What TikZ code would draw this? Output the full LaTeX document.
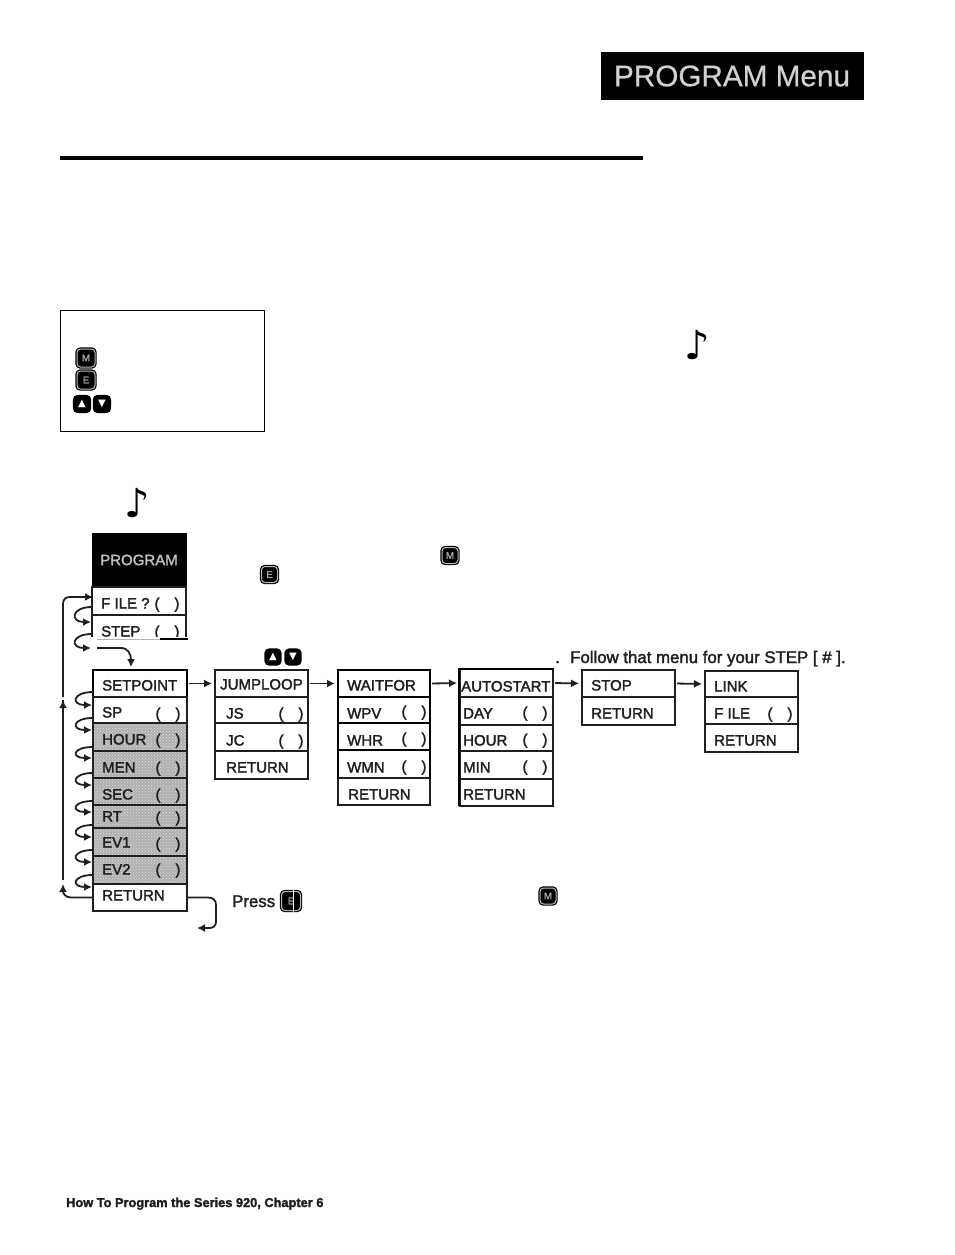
\documentclass[tikz,border=0pt]{standalone}
\usepackage{fontspec}
\setmainfont{Liberation Sans}
\newfontfamily\menufont[FakeBold=2]{Liberation Sans}
\newfontfamily\titlefont[FakeBold=0.6]{Liberation Sans}
\newfontfamily\symfont{DejaVu Sans}
\usetikzlibrary{arrows.meta,calc,patterns}
\definecolor{ink}{gray}{0.12}
\tikzset{
  cell/.style={draw=ink,line width=1.8pt,anchor=north west,inner sep=0pt,outer sep=0pt},
  cellhard/.style={cell,draw=black,line width=2.4pt},
  cellgray/.style={cell,preaction={fill=gray!62},pattern=crosshatch dots,pattern color=gray!25},
  lbl/.style={anchor=base west,inner sep=0pt,text=ink,font=\menufont\fontsize{15}{18}\selectfont},
  parens/.style={anchor=base,inner sep=0pt,text=ink,font=\menufont\fontsize{15}{18}\selectfont},
  body/.style={anchor=base west,inner sep=0pt,text=ink,font=\menufont\fontsize{16.8}{19}\selectfont},
  conn/.style={draw=ink,line width=1.8pt,-{Latex[length=8pt,width=8pt]}},
  loopline/.style={conn},
  keycap/.style={draw=black,line width=1.2pt,double=gray!55,double distance=1pt,fill=black,rounded corners=3.5pt,
    inner sep=0pt,outer sep=0pt,text=black!35,font=\menufont\fontsize{9.5}{9}\selectfont},
  keyarrow/.style={keycap,minimum size=15pt,draw=black,double=black,font=\symfont\fontsize{10}{10}\selectfont,text=white},
  note/.style={inner sep=0pt,text=black,font=\symfont\fontsize{40}{40}\selectfont},
}
\newcommand{\menucell}[6]{%
  \pgfmathsetmacro{\cellw}{#5-#3}\pgfmathsetmacro{\cellh}{#6-#4}%
  \node[#1,minimum width=\cellw pt,minimum height=\cellh pt] (#2) at (#3,#4) {};}
\newcommand{\celltext}[4]{\node[lbl] (#1) at (#2,#3+5.5) {#4};}
\newcommand{\cellparens}[3]{\node[parens] (#1) at (#2,#3+5.5) {\makebox[25pt]{(\hfill)}};}
\newcommand{\menuloop}[4]{%
  \draw[loopline] ([yshift=#2pt]#1.south west) .. controls +(-21,0) and +(-21,0) .. ([xshift=-1pt,yshift=-#4pt]#3.north west);}
\newcommand{\stepconn}[2]{\draw[conn,shorten <=2pt,shorten >=3pt] (#1.east) -- (#2.west);}
\begin{document}
\begin{tikzpicture}[x=1pt,y=-1pt]
\useasboundingbox (0,0) rectangle (954,1255);
\fill[white] (0,0) rectangle (954,1255);

% header
\node[fill=black,text=black!18,inner sep=0pt,minimum width=263pt,minimum height=48pt,
  font=\titlefont\fontsize{29.7}{32}\selectfont] (title) at (732,76) {PROGRAM Menu};
\node[fill=black,inner sep=0pt,minimum width=583pt,minimum height=4pt] (rule) at (351.5,158) {};

% key box
\node[draw=black,line width=.9pt,inner sep=0pt,minimum width=204pt,minimum height=121pt] (keybox) at (162,370.5) {};
\node[keycap,minimum size=18pt] (keyM) at (86,358) {M};
\node[keycap,minimum size=18pt] (keyE) at (86,380) {E};
\node[keyarrow] (keyU) at (82,404) {▲};
\node[keyarrow] (keyD) at (102,404) {▼};

% notes
\node[note] (note1) at (697,345) {♪};
\node[note] (note2) at (137,503) {♪};

% PROGRAM column
\node[fill=black,text=black!25,inner sep=0pt,minimum width=95pt,minimum height=54pt,
  font=\menufont\fontsize{15}{18}\selectfont] (program) at (139,560) {PROGRAM};
\menucell{cell}{file}{92}{587}{186}{615}
\menucell{cell}{stepc}{92}{615}{186}{639}
\celltext{filet}{101}{603}{F ILE ?}
\cellparens{filep}{167}{603}
\celltext{stept}{101}{631}{STEP}
\cellparens{stepp}{167}{631}
\fill[white] (90,637) rectangle (188,640);
\draw[draw=black,line width=1.8pt] (160,639) -- (188,639);
\draw[draw=gray!60,line width=1pt] (97,639) -- (160,639);

% SETPOINT column
\menucell{cellhard}{setpoint}{93}{670}{187}{697}
\menucell{cell}{sp}{93}{697}{187}{723}
\menucell{cellgray}{hour}{93}{723}{187}{751}
\menucell{cellgray}{men}{93}{751}{187}{778}
\menucell{cellgray}{sec}{93}{778}{187}{805}
\menucell{cellgray}{rt}{93}{805}{187}{828}
\menucell{cellgray}{evone}{93}{828}{187}{856}
\menucell{cellgray}{evtwo}{93}{856}{187}{884}
\menucell{cell}{retA}{93}{884}{187}{911}
\celltext{setpointt}{102}{685}{SETPOINT}
\celltext{spt}{102}{712}{SP}\cellparens{spp}{168}{713}
\celltext{hourt}{102}{739}{HOUR}\cellparens{hourp}{168}{739}
\celltext{ment}{102}{767}{MEN}\cellparens{menp}{168}{767}
\celltext{sect}{102}{794}{SEC}\cellparens{secp}{168}{794}
\celltext{rtt}{102}{816}{RT}\cellparens{rtp}{168}{817}
\celltext{evonet}{102}{842}{EV1}\cellparens{evonep}{168}{843}
\celltext{evtwot}{102}{869}{EV2}\cellparens{evtwop}{168}{869}
\celltext{retAt}{102}{895}{RETURN}

% JUMPLOOP column
\menucell{cell}{jump}{215}{670}{308}{697}
\menucell{cell}{js}{215}{697}{308}{723}
\menucell{cell}{jc}{215}{723}{308}{751}
\menucell{cell}{retB}{215}{751}{308}{779}
\celltext{jumpt}{220}{684}{JUMPLOOP}
\celltext{jst}{226}{713}{JS}\cellparens{jsp}{291}{713}
\celltext{jct}{226}{740}{JC}\cellparens{jcp}{291}{740}
\celltext{retBt}{226}{767}{RETURN}

% WAITFOR column
\menucell{cell}{retC}{338}{778}{430}{805}
\menucell{cellhard}{wpv}{338}{697}{430}{723}
\menucell{cellhard}{whr}{338}{723}{430}{750}
\menucell{cellhard}{wmn}{338}{750}{430}{778}
\menucell{cellhard}{wait}{338}{670}{430}{697}
\draw[ink,line width=1.8pt] (338,778) -- (430,778);
\celltext{waitt}{347}{685}{WAITFOR}
\celltext{wpvt}{347}{713}{WPV}\cellparens{wpvp}{414}{711}
\celltext{whrt}{347}{740}{WHR}\cellparens{whrp}{414}{738}
\celltext{wmnt}{347}{767}{WMN}\cellparens{wmnp}{414}{766}
\celltext{retCt}{348}{794}{RETURN}

% AUTOSTART column
\menucell{cell}{autostart}{460}{669}{553}{697}
\menucell{cell}{day}{460}{697}{553}{725}
\menucell{cell}{hourB}{460}{725}{553}{751}
\menucell{cell}{minute}{460}{751}{553}{779}
\menucell{cell}{retD}{460}{779}{553}{806}
\draw[black,line width=2.4pt] (553,669) -- (459,669) -- (459,806);
\celltext{autot}{461}{686}{AUTOSTART}
\celltext{dayt}{463}{713}{DAY}\cellparens{dayp}{535}{712}
\celltext{hourBt}{463}{740}{HOUR}\cellparens{hourBp}{535}{739}
\celltext{minutet}{463}{767}{MIN}\cellparens{minutep}{535}{766}
\celltext{retDt}{463}{794}{RETURN}

% STOP column
\menucell{cell}{stopc}{582}{670}{675}{697}
\menucell{cell}{retE}{582}{697}{675}{725}
\celltext{stopt}{591}{685}{STOP}
\celltext{retEt}{591}{713}{RETURN}

% LINK column
\menucell{cell}{link}{705}{671}{798}{697}
\menucell{cell}{fileB}{705}{697}{798}{724}
\menucell{cell}{retF}{705}{724}{798}{752}
\celltext{linkt}{714}{686}{LINK}
\celltext{fileBt}{714}{713}{F ILE}\cellparens{fileBp}{780}{713}
\celltext{retFt}{714}{740}{RETURN}

% connectors between columns
\stepconn{setpoint}{jump}
\stepconn{jump}{wait}
\stepconn{wait}{autostart}
\stepconn{autostart}{stopc}
\stepconn{stopc}{link}

% loops down the left side
\coordinate (stepout) at (91,648);
\coordinate (tailstart) at (97,648);
\menuloop{file}{8}{stepc}{7}
\draw[loopline] ([yshift=5pt]stepc.south west) .. controls +(-21,0) and +(-21,0) .. (stepout);
\draw[conn] (tailstart) -- (121,648) .. controls (128,648) and (131,654) .. ([xshift=-9pt,yshift=3pt]setpoint.north);
\menuloop{setpoint}{5}{sp}{8}
\menuloop{sp}{5}{hour}{7}
\menuloop{hour}{4}{men}{7}
\menuloop{men}{5}{sec}{7}
\menuloop{sec}{4}{rt}{7}
\menuloop{rt}{3}{evone}{9}
\menuloop{evone}{6}{evtwo}{6}
\menuloop{evtwo}{9}{retA}{3}

% return path up the far left
\coordinate (upA) at (63,884);
\coordinate (upB) at (63,880);
\coordinate (upC) at (63,700);
\coordinate (upD) at (63,697);
\draw[conn] (retA.west) -- (71,897.5) .. controls (66,897.5) and (63,894) .. (upA);
\draw[conn,-] (upB) -- (upC);
\draw[conn] (63,707) -- (upC);
\draw[conn,-] (upD) -- (63,604) .. controls (63,599) and (66,597) .. (70,597) -- ([yshift=4pt]file.west);
\draw[conn] (80,597) -- ([xshift=1pt,yshift=4pt]file.west);

% return exit
\coordinate (retexit) at (197,928);
\draw[conn] (retA.east) -- (208,897.5) .. controls (213,897.5) and (216,900) .. (216,905) -- (216,922)
  .. controls (216,926) and (213,928) .. (209,928) -- (retexit);

% visible text and keys
\node[body] (press) at (232,907) {Press};
\node[keycap,minimum size=19pt] (keyE2) at (291,901) {E};
\draw[white,line width=.8pt] (293.5,889) -- (293.5,912);
\node[keycap,minimum size=16pt] (keyM2) at (548,896) {M};
\node[keycap,minimum size=16pt] (keyM3) at (450,555.5) {M};
\node[keycap,minimum size=16pt] (keyE3) at (269.5,574.5) {E};
\node[keyarrow,minimum size=14pt] (keyU2) at (273,657) {▲};
\node[keyarrow,minimum size=14pt] (keyD2) at (293,657) {▼};
\node[body] (dot) at (555,663) {.};
\node[body] (follow) at (570,663) {Follow that menu for your STEP [ \# ].};
\node[anchor=base west,inner sep=0pt,text=ink,font=\menufont\bfseries\fontsize{12.8}{16}\selectfont] (footer) at (66,1207) {How To Program the Series 920, Chapter 6};
\end{tikzpicture}
\end{document}
